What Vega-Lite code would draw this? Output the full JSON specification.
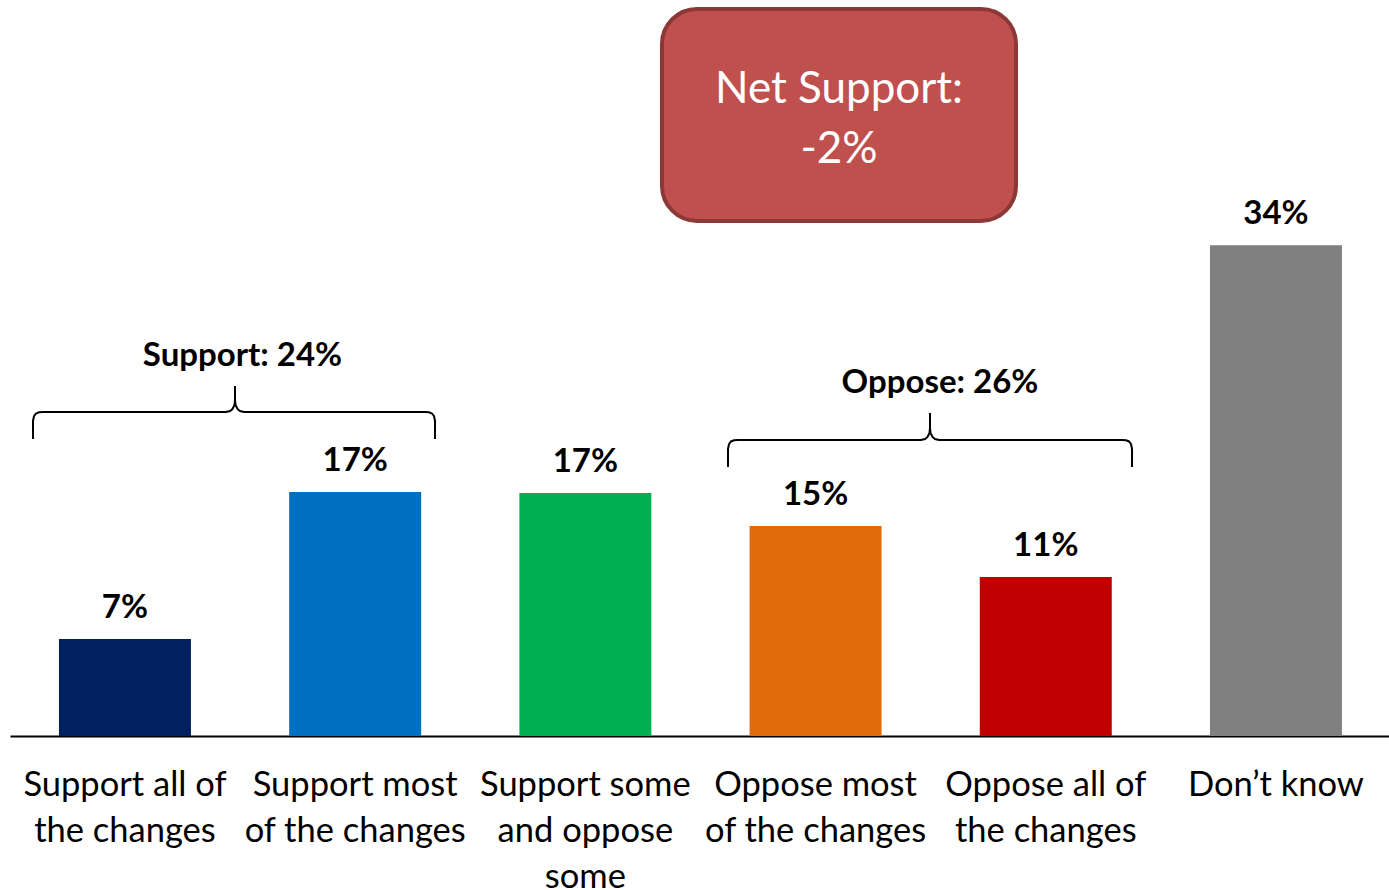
{
  "$schema": "https://vega.github.io/schema/vega-lite/v6.json",
  "width": 1379,
  "height": 736,
  "padding": {"left": 10, "top": 0, "right": 0, "bottom": 0},
  "background": "white",
  "config": {"view": {"stroke": null}, "font": "Lato"},
  "datasets": {
    "bars": [
      {"cat": "Support all of\nthe changes", "value": 6.72, "label": "7%"},
      {"cat": "Support most\nof the changes", "value": 16.9, "label": "17%"},
      {"cat": "Support some\nand oppose\nsome", "value": 16.84, "label": "17%"},
      {"cat": "Oppose most\nof the changes", "value": 14.55, "label": "15%"},
      {"cat": "Oppose all of\nthe changes", "value": 11.02, "label": "11%"},
      {"cat": "Don’t know", "value": 34.0, "label": "34%"}
    ],
    "brackets": [
      {"g": "S", "o": 1, "x": 0.1001, "y": 20.58},
      {"g": "S", "o": 2, "x": 0.1001, "y": 21.83},
      {"g": "S", "o": 3, "x": 0.1044, "y": 22.17},
      {"g": "S", "o": 4, "x": 0.1131, "y": 22.35},
      {"g": "S", "o": 5, "x": 0.1262, "y": 22.43},
      {"g": "S", "o": 6, "x": 0.1436, "y": 22.45},
      {"g": "S", "o": 7, "x": 0.9398, "y": 22.45},
      {"g": "S", "o": 8, "x": 0.9572, "y": 22.52},
      {"g": "S", "o": 9, "x": 0.9681, "y": 22.66},
      {"g": "S", "o": 10, "x": 0.9768, "y": 22.94},
      {"g": "S", "o": 11, "x": 0.979, "y": 23.28},
      {"g": "S", "o": 12, "x": 0.979, "y": 24.25},
      {"g": "S", "o": 13, "x": 0.979, "y": 23.28},
      {"g": "S", "o": 14, "x": 0.9812, "y": 22.94},
      {"g": "S", "o": 15, "x": 0.9899, "y": 22.66},
      {"g": "S", "o": 16, "x": 1.0007, "y": 22.52},
      {"g": "S", "o": 17, "x": 1.0181, "y": 22.45},
      {"g": "S", "o": 18, "x": 1.8057, "y": 22.45},
      {"g": "S", "o": 19, "x": 1.8231, "y": 22.43},
      {"g": "S", "o": 20, "x": 1.8362, "y": 22.35},
      {"g": "S", "o": 21, "x": 1.8449, "y": 22.17},
      {"g": "S", "o": 22, "x": 1.8492, "y": 21.83},
      {"g": "S", "o": 23, "x": 1.8492, "y": 20.58},
      {"g": "O", "o": 1, "x": 3.124, "y": 18.64},
      {"g": "O", "o": 2, "x": 3.124, "y": 19.89},
      {"g": "O", "o": 3, "x": 3.1284, "y": 20.23},
      {"g": "O", "o": 4, "x": 3.1371, "y": 20.41},
      {"g": "O", "o": 5, "x": 3.1501, "y": 20.49},
      {"g": "O", "o": 6, "x": 3.1675, "y": 20.51},
      {"g": "O", "o": 7, "x": 3.9638, "y": 20.51},
      {"g": "O", "o": 8, "x": 3.9812, "y": 20.58},
      {"g": "O", "o": 9, "x": 3.9921, "y": 20.72},
      {"g": "O", "o": 10, "x": 4.0007, "y": 21.0},
      {"g": "O", "o": 11, "x": 4.0029, "y": 21.34},
      {"g": "O", "o": 12, "x": 4.0029, "y": 22.38},
      {"g": "O", "o": 13, "x": 4.0029, "y": 21.34},
      {"g": "O", "o": 14, "x": 4.0051, "y": 21.0},
      {"g": "O", "o": 15, "x": 4.0138, "y": 20.72},
      {"g": "O", "o": 16, "x": 4.0247, "y": 20.58},
      {"g": "O", "o": 17, "x": 4.0421, "y": 20.51},
      {"g": "O", "o": 18, "x": 4.8384, "y": 20.51},
      {"g": "O", "o": 19, "x": 4.8558, "y": 20.49},
      {"g": "O", "o": 20, "x": 4.8688, "y": 20.41},
      {"g": "O", "o": 21, "x": 4.8775, "y": 20.23},
      {"g": "O", "o": 22, "x": 4.8819, "y": 19.89},
      {"g": "O", "o": 23, "x": 4.8819, "y": 18.64}
    ],
    "notes": [
      {"x": 1.0116, "y": 26.33, "text": "Support: 24%"},
      {"x": 4.0464, "y": 24.46, "text": "Oppose: 26%"}
    ],
    "box": [
      {"x": 2.8368, "x2": 4.3771, "y": 50.38, "y2": 35.69}
    ],
    "boxtext": [
      {"x": 3.607, "y": 44.76, "text": "Net Support:"},
      {"x": 3.607, "y": 40.62, "text": "-2%"}
    ]
  },
  "resolve": {"scale": {"x": "independent"}, "axis": {"x": "independent"}},
  "layer": [
    {
      "data": {"name": "bars"},
      "encoding": {
        "x": {
          "field": "cat",
          "type": "nominal",
          "sort": null,
          "scale": {"paddingInner": 0.4266, "paddingOuter": 0.2085, "align": 0.51},
          "axis": {
            "title": null,
            "labelExpr": "split(datum.label, '\\n')",
            "labelAngle": 0,
            "labelFont": "Lato",
            "labelFontSize": 34.5,
            "labelColor": "black",
            "labelLineHeight": 46,
            "labelPadding": 32,
            "labelLimit": 0,
            "labelOverlap": false,
            "labelBound": false,
            "ticks": false,
            "domainColor": "black",
            "domainWidth": 2
          }
        },
        "y": {
          "field": "value",
          "type": "quantitative",
          "scale": {"domain": [0, 51], "nice": false, "zero": true},
          "axis": null
        }
      },
      "layer": [
        {
          "mark": {"type": "bar"},
          "encoding": {
            "color": {
              "field": "cat",
              "type": "nominal",
              "sort": null,
              "legend": null,
              "scale": {
                "domain": [
                  "Support all of\nthe changes",
                  "Support most\nof the changes",
                  "Support some\nand oppose\nsome",
                  "Oppose most\nof the changes",
                  "Oppose all of\nthe changes",
                  "Don’t know"
                ],
                "range": ["#002060", "#0070C0", "#00B050", "#E36C0A", "#C00000", "#808080"]
              }
            }
          }
        },
        {
          "mark": {"type": "text", "font": "Lato", "fontWeight": "bold", "fontSize": 33, "baseline": "middle", "dy": -31, "color": "black"},
          "encoding": {"text": {"field": "label"}}
        }
      ]
    },
    {
      "layer": [
        {
          "data": {"name": "box"},
          "mark": {"type": "rect", "fill": "#C0504D", "stroke": "#8C3836", "strokeWidth": 4, "cornerRadius": 35},
          "encoding": {
            "x": {"field": "x", "type": "quantitative", "scale": {"domain": [0, 6], "nice": false, "zero": false}, "axis": null},
            "x2": {"field": "x2"},
            "y": {"field": "y", "type": "quantitative"},
            "y2": {"field": "y2"}
          }
        },
        {
          "data": {"name": "boxtext"},
          "mark": {"type": "text", "font": "Lato", "fontSize": 44, "color": "white", "baseline": "middle", "align": "center"},
          "encoding": {
            "x": {"field": "x", "type": "quantitative"},
            "y": {"field": "y", "type": "quantitative"},
            "text": {"field": "text"}
          }
        },
        {
          "data": {"name": "brackets"},
          "mark": {"type": "line", "color": "black", "strokeWidth": 2},
          "encoding": {
            "x": {"field": "x", "type": "quantitative"},
            "y": {"field": "y", "type": "quantitative"},
            "detail": {"field": "g"},
            "order": {"field": "o"}
          }
        },
        {
          "data": {"name": "notes"},
          "mark": {"type": "text", "font": "Lato", "fontSize": 33, "fontWeight": "bold", "color": "black", "baseline": "middle", "align": "center"},
          "encoding": {
            "x": {"field": "x", "type": "quantitative"},
            "y": {"field": "y", "type": "quantitative"},
            "text": {"field": "text"}
          }
        }
      ]
    }
  ]
}
